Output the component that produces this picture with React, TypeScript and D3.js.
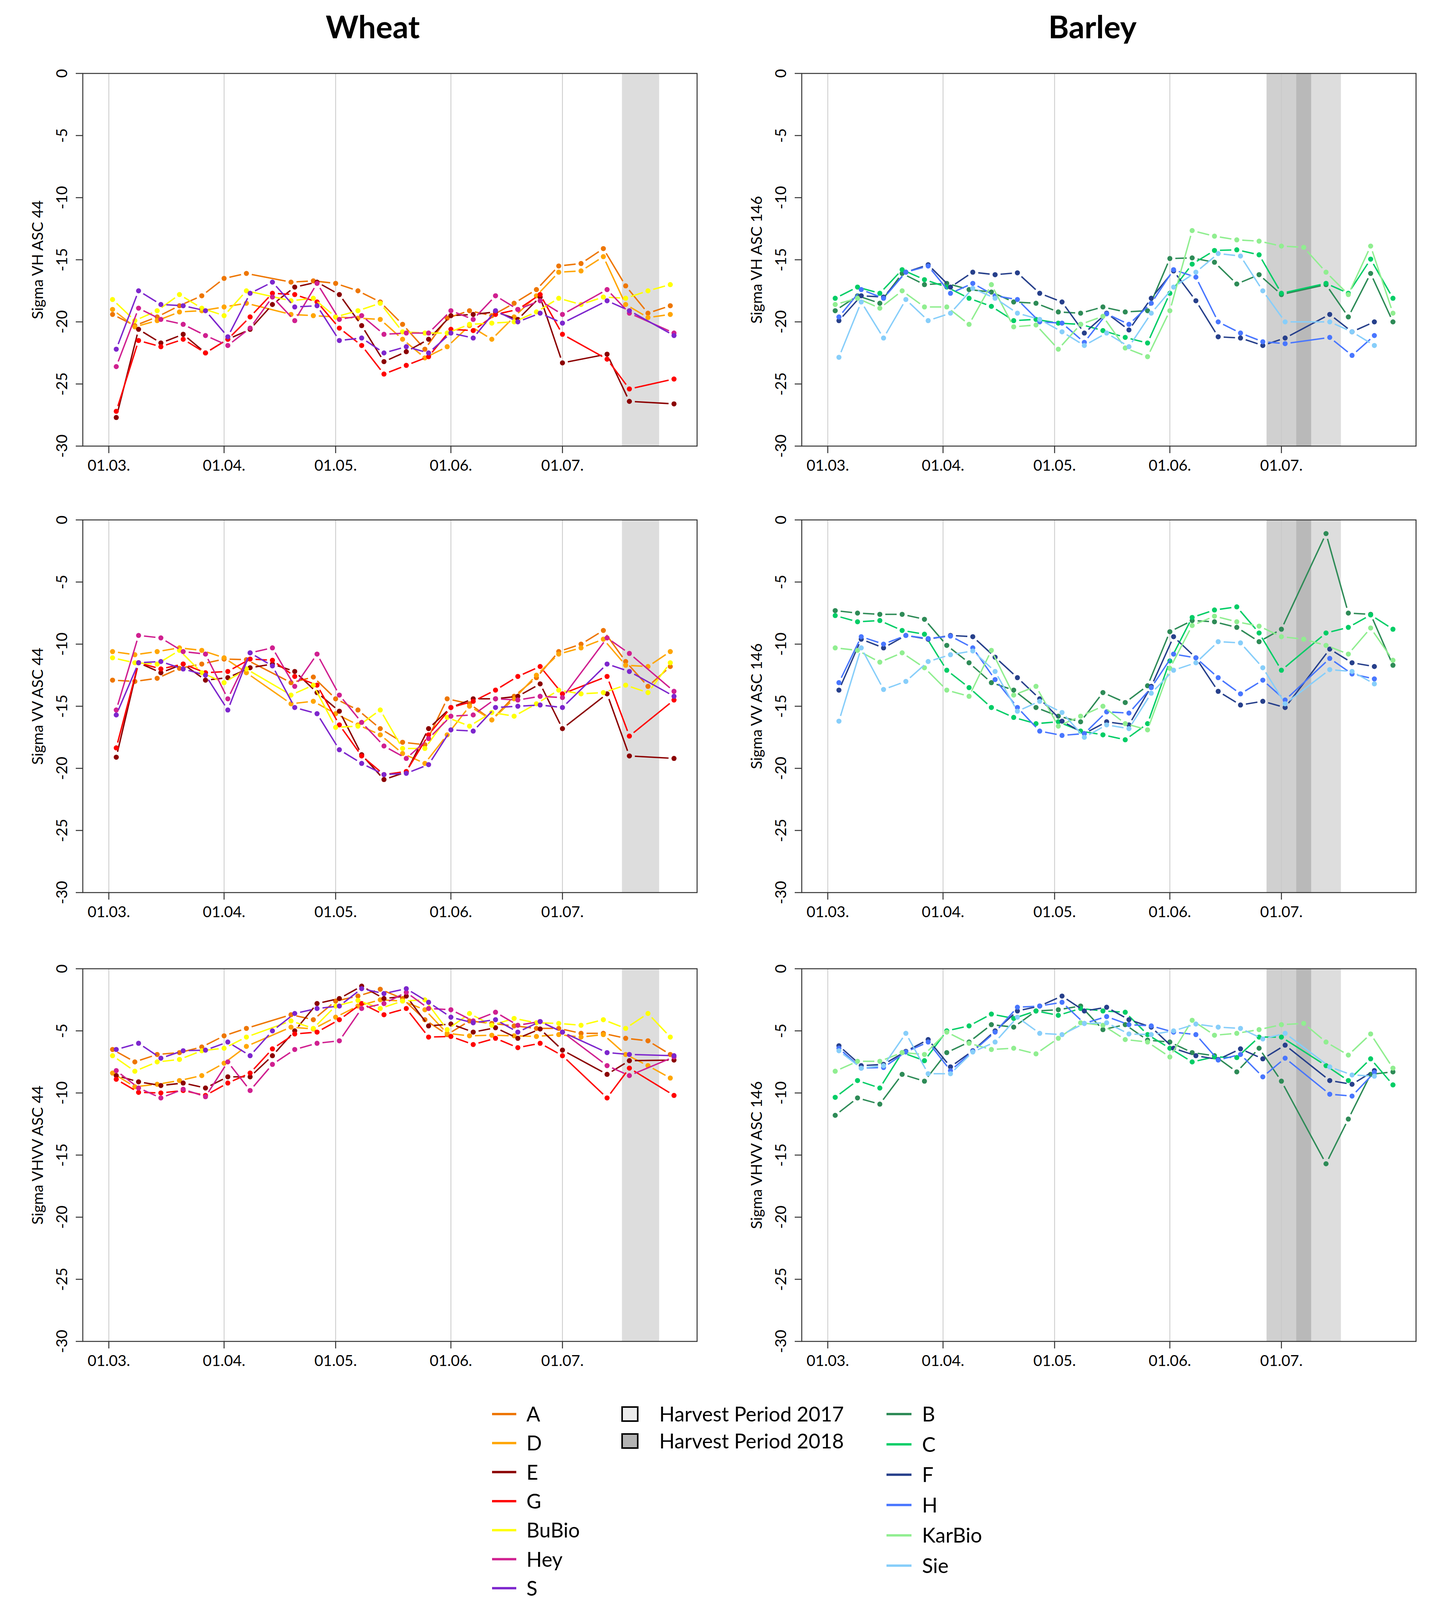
import React from 'react'
import * as d3 from 'd3'

// acquisition dates (two sets per crop, 6 day repeat)
const datesW1 = ['2018-03-02', '2018-03-08', '2018-03-14', '2018-03-20', '2018-03-26', '2018-04-01', '2018-04-07', '2018-04-13', '2018-04-19', '2018-04-25', '2018-05-01', '2018-05-07', '2018-05-13', '2018-05-19', '2018-05-25', '2018-05-31', '2018-06-06', '2018-06-12', '2018-06-18', '2018-06-24', '2018-06-30', '2018-07-06', '2018-07-12', '2018-07-18', '2018-07-24', '2018-07-30']
const datesW2 = ['2018-03-03', '2018-03-09', '2018-03-15', '2018-03-21', '2018-03-27', '2018-04-02', '2018-04-08', '2018-04-14', '2018-04-20', '2018-04-26', '2018-05-02', '2018-05-08', '2018-05-14', '2018-05-20', '2018-05-26', '2018-06-01', '2018-06-07', '2018-06-13', '2018-06-19', '2018-06-25', '2018-07-01', '2018-07-07', '2018-07-13', '2018-07-19', '2018-07-25', '2018-07-31']
const datesB1 = datesW2
const datesB2 = ['2018-03-04', '2018-03-10', '2018-03-16', '2018-03-22', '2018-03-28', '2018-04-03', '2018-04-09', '2018-04-15', '2018-04-21', '2018-04-27', '2018-05-03', '2018-05-09', '2018-05-15', '2018-05-21', '2018-05-27', '2018-06-02', '2018-06-08', '2018-06-14', '2018-06-20', '2018-06-26', '2018-07-02', '2018-07-08', '2018-07-14', '2018-07-20', '2018-07-26', '2018-08-01']

const monthTicks = ['2018-03-01', '2018-04-01', '2018-05-01', '2018-06-01', '2018-07-01']
const yTicks = [0, -5, -10, -15, -20, -25, -30]

const wheatNames = ['A', 'D', 'E', 'G', 'BuBio', 'Hey', 'S']
const wheatColors = ['#EE7600', '#FFA500', '#8B0000', '#FF0000', '#FFFF00', '#D02090', '#7D26CD']
const wheatDates = [datesW1, datesW1, datesW2, datesW2, datesW1, datesW2, datesW2]

const barleyNames = ['B', 'C', 'F', 'H', 'KarBio', 'Sie']
const barleyColors = ['#2E8B57', '#00CD66', '#27408B', '#4876FF', '#90EE90', '#87CEFA']
const barleyDates = [datesB1, datesB1, datesB2, datesB2, datesB1, datesB2]

const n = null

const wheatVH = {
  A: [-19.4, -20.3, -19.6, -18.7, -17.9, -16.5, -16.1, n, -16.8, -16.7, -16.9, -17.5, -18.4, -20.2, -22.2, -19.7, -19.1, -19.5, -18.5, -17.4, -15.5, -15.3, -14.1, -17.1, -19.3, -18.7],
  D: [-19.0, -20.4, -19.9, -19.2, -19.1, -18.8, -18.5, n, -19.4, -19.5, -19.6, -19.7, -19.8, -21.4, -22.9, -22.0, -20.3, -21.4, -19.6, -17.9, -16.0, -15.9, -14.75, -18.6, -19.65, -19.4],
  E: [-27.7, -20.6, -21.7, -21.0, -22.5, -21.4, -20.6, -18.6, -17.2, -16.8, -17.8, -20.3, -23.2, -22.4, -21.4, -19.5, -19.4, -19.2, -19.8, -18.0, -23.3, n, -22.6, -26.4, n, -26.6],
  G: [-27.2, -21.5, -22.0, -21.4, -22.5, -21.4, -19.6, -17.7, -17.8, -18.4, -20.5, -21.9, -24.2, -23.5, -22.8, -20.6, -20.7, -19.4, -19.0, -17.8, -21.0, n, -23.0, -25.4, n, -24.6],
  BuBio: [-18.2, -19.9, -19.1, -17.8, -18.9, -19.5, -17.5, n, -18.3, -18.1, -19.6, -19.1, -18.5, -20.8, -20.9, -20.9, -20.2, -20.1, -20.0, -19.2, -18.1, -18.6, -18.0, -18.1, -17.5, -17.0],
  Hey: [-23.6, -18.9, -19.8, -20.2, -21.1, -21.9, -20.5, -18.0, -19.9, -16.9, -19.8, -19.5, -21.0, -20.9, -20.9, -19.1, -19.8, -17.9, -19.0, -18.3, -19.4, n, -17.4, -19.3, n, -20.9],
  S: [-22.2, -17.5, -18.6, -18.7, -19.1, -21.2, -17.7, -16.8, -18.8, -18.7, -21.5, -21.3, -22.5, -22.0, -22.5, -20.9, -21.3, -19.1, -20.0, -19.3, -20.1, n, -18.3, -19.1, n, -21.1],
}

const wheatVV = {
  A: [-12.9, -13.0, -12.75, -11.95, -11.6, -11.2, -11.25, n, -13.1, -12.65, -14.4, -15.3, -16.8, -17.9, -18.1, -14.4, -14.8, -16.1, -14.2, -12.7, -10.6, -10.0, -8.9, -11.4, -13.4, -11.8],
  D: [-10.6, -10.85, -10.6, -10.3, -10.5, -11.1, -12.3, n, -14.8, -14.6, -15.6, -16.5, -17.3, -18.8, -19.6, -17.3, -15.0, -16.1, -14.4, -12.5, -10.8, -10.3, -9.6, -11.7, -11.8, -10.6],
  E: [-19.1, -11.5, -12.3, -11.6, -12.9, -12.7, -11.9, -11.6, -12.2, -13.9, -15.4, -18.9, -20.9, -20.3, -16.8, -15.1, -14.4, -14.4, -14.2, -13.2, -16.8, n, -14.0, -19.0, n, -19.2],
  G: [-18.35, -11.5, -12.0, -11.6, -12.3, -12.2, -11.2, -11.3, -12.6, -13.3, -16.5, -19.0, -20.5, -20.25, -17.3, -15.1, -14.6, -13.7, -12.6, -11.8, -14.0, n, -12.6, -17.4, n, -14.5],
  BuBio: [-11.1, -11.5, -11.6, -10.5, -12.3, -13.1, -12.0, n, -14.1, -13.3, -16.7, -16.6, -15.3, -18.4, -18.4, -15.9, -16.6, -15.5, -15.8, -14.8, -13.7, -14.0, -13.9, -13.3, -13.9, -11.5],
  Hey: [-15.3, -9.3, -9.5, -10.6, -10.8, -14.4, -10.7, -10.3, -13.4, -10.8, -14.1, -16.3, -18.2, -19.2, -17.6, -15.8, -15.7, -14.4, -14.5, -14.2, -14.3, n, -9.5, -10.75, n, -13.8],
  S: [-15.7, -11.5, -11.4, -12.0, -12.5, -15.3, -10.7, -11.75, -15.1, -15.6, -18.5, -19.6, -20.5, -20.4, -19.7, -16.9, -17.0, -15.1, -15.0, -14.9, -15.1, n, -11.6, -12.2, n, -14.2],
}

const wheatVHVV = {
  A: [-6.5, -7.5, -6.9, -6.75, -6.3, -5.4, -4.8, n, -3.7, -4.1, -2.6, -2.2, -1.65, -2.4, -4.1, -5.3, -4.2, -4.4, -4.6, -4.8, -4.8, -5.2, -5.2, -5.6, -5.8, -6.9],
  D: [-8.4, -9.5, -9.3, -9.0, -8.6, -7.6, -6.25, n, -4.7, -4.85, -3.9, -3.0, -2.5, -2.6, -3.3, -5.2, -5.4, -5.35, -5.4, -5.45, -5.3, -5.5, -5.3, -6.9, -7.8, -8.8],
  E: [-8.6, -9.1, -9.4, -9.2, -9.6, -8.7, -8.7, -7.0, -5.0, -2.8, -2.4, -1.4, -2.4, -2.2, -4.6, -4.45, -5.1, -4.75, -5.6, -4.85, -6.55, n, -8.5, -7.4, n, -7.35],
  G: [-8.9, -9.95, -10.0, -9.8, -10.2, -9.2, -8.4, -6.45, -5.25, -5.1, -4.1, -2.8, -3.7, -3.2, -5.5, -5.45, -6.1, -5.6, -6.35, -6.0, -7.0, n, -10.4, -8.0, n, -10.2],
  BuBio: [-7.0, -8.25, -7.5, -7.3, -6.6, -6.4, -5.5, n, -4.2, -4.8, -3.0, -2.55, -3.2, -2.6, -2.5, -4.9, -3.6, -4.55, -4.0, -4.35, -4.4, -4.55, -4.1, -4.8, -3.6, -5.5],
  Hey: [-8.2, -9.6, -10.4, -9.7, -10.3, -7.5, -9.8, -7.7, -6.5, -6.0, -5.8, -3.2, -2.8, -1.9, -3.2, -3.3, -4.2, -3.5, -4.55, -4.25, -5.1, n, -7.8, -8.6, n, -7.1],
  S: [-6.5, -6.0, -7.2, -6.6, -6.55, -5.9, -7.0, -5.0, -3.6, -3.2, -3.0, -1.6, -2.0, -1.6, -2.7, -3.9, -4.35, -4.1, -5.1, -4.25, -5.1, n, -6.75, -6.9, n, -7.0],
}

const barleyVH = {
  B: [-19.1, -17.9, -18.5, -16.1, -17.0, -16.9, -17.4, -17.6, -18.4, -18.5, -19.2, -19.3, -18.8, -19.2, -19.1, -14.9, -14.85, -15.2, -16.95, -16.2, -17.8, n, -17.0, -19.6, -16.1, -20.0],
  C: [-18.1, -17.2, -17.7, -15.8, -16.6, -17.2, -18.1, -18.75, -19.9, -19.8, -20.1, -20.2, -20.7, -21.25, -21.7, -17.7, -15.35, -14.25, -14.2, -14.6, -17.7, n, -16.9, -17.7, -14.95, -18.1],
  F: [-19.9, -17.9, -18.0, -16.0, -15.4, -17.2, -16.0, -16.2, -16.05, -17.7, -18.4, -20.9, -19.3, -20.65, -18.1, -15.9, -18.3, -21.2, -21.3, -21.9, -21.3, n, -19.4, -20.8, -20.0, n],
  H: [-19.6, -17.4, -18.1, -16.0, -15.5, -17.7, -16.9, -17.9, -18.2, -20.0, -20.1, -21.65, -19.35, -20.2, -18.5, -15.8, -16.4, -20.0, -20.9, -21.6, -21.75, n, -21.25, -22.7, -21.1, n],
  KarBio: [-18.6, -18.1, -18.9, -17.5, -18.8, -18.8, -20.2, -17.0, -20.4, -20.25, -22.2, -20.2, -19.55, -22.1, -22.8, -19.1, -12.65, -13.1, -13.4, -13.5, -13.9, -14.0, -16.0, -17.8, -13.9, -19.3],
  Sie: [-22.85, -18.4, -21.3, -18.2, -19.9, -19.3, -17.3, -18.1, -19.3, -19.8, -20.8, -21.9, -20.9, -22.0, -19.3, -17.2, -16.0, -14.5, -14.7, -17.5, -20.0, n, -20.0, -20.8, -21.9, n],
}

const barleyVV = {
  B: [-7.3, -7.5, -7.6, -7.6, -8.0, -10.1, -11.5, -13.1, -13.7, -15.1, -15.8, -16.25, -13.9, -14.7, -13.35, -9.0, -8.1, -8.2, -8.65, -9.8, -8.8, n, -1.1, -7.5, -7.6, -11.7],
  C: [-7.7, -8.2, -8.1, -8.9, -9.2, -12.1, -13.5, -15.1, -15.9, -16.4, -16.25, -17.0, -17.3, -17.7, -16.4, -11.35, -7.85, -7.25, -7.0, -9.1, -12.1, n, -9.1, -8.65, -7.65, -8.8],
  F: [-13.7, -9.6, -10.3, -9.3, -9.6, -9.3, -9.4, -11.05, -12.7, -14.4, -16.2, -17.2, -16.25, -16.5, -13.4, -9.4, -11.1, -13.8, -14.9, -14.6, -15.1, n, -10.4, -11.5, -11.8, n],
  H: [-13.1, -9.4, -10.0, -9.3, -9.55, -9.35, -10.3, -12.85, -15.1, -17.0, -17.35, -17.2, -15.45, -15.55, -13.5, -10.8, -11.1, -12.7, -14.0, -12.9, -14.5, n, -11.15, -12.4, -12.8, n],
  KarBio: [-10.3, -10.5, -11.45, -10.7, -11.9, -13.7, -14.2, -10.5, -14.1, -13.4, -16.6, -15.8, -15.0, -16.4, -16.9, -11.95, -8.5, -7.75, -8.2, -8.55, -9.4, -9.6, -10.1, -10.8, -8.7, -11.3],
  Sie: [-16.2, -10.3, -13.65, -13.0, -11.4, -10.85, -10.55, -12.2, -15.4, -14.6, -15.5, -17.5, -16.5, -16.8, -13.95, -12.1, -11.5, -9.8, -9.9, -11.9, -14.8, n, -12.05, -12.2, -13.2, n],
}

const barleyVHVV = {
  B: [-11.8, -10.4, -10.9, -8.5, -9.05, -6.75, -5.9, -4.5, -4.7, -3.4, -3.3, -3.0, -4.9, -4.5, -5.75, -5.9, -6.75, -7.0, -8.3, -6.4, -9.05, n, -15.7, -12.1, -8.5, -8.3],
  C: [-10.35, -9.0, -9.6, -6.75, -7.4, -5.0, -4.6, -3.65, -4.0, -3.4, -3.75, -3.2, -3.4, -3.5, -5.3, -6.4, -7.5, -7.1, -7.15, -5.5, -5.5, n, -7.8, -9.0, -7.25, -9.35],
  F: [-6.2, -7.8, -7.7, -6.65, -5.7, -7.9, -6.6, -5.0, -3.4, -3.0, -2.2, -3.4, -3.1, -4.1, -4.7, -6.4, -7.0, -7.3, -6.45, -7.25, -6.15, n, -9.0, -9.3, -8.2, n],
  H: [-6.4, -8.0, -7.95, -6.7, -5.9, -8.2, -6.65, -5.1, -3.1, -3.0, -2.7, -4.4, -3.85, -4.5, -4.6, -5.1, -5.3, -7.35, -6.9, -8.7, -7.2, n, -10.1, -10.25, -8.35, n],
  KarBio: [-8.25, -7.45, -7.45, -6.75, -6.9, -5.1, -6.0, -6.5, -6.4, -6.85, -5.6, -4.35, -4.55, -5.7, -5.9, -7.1, -4.15, -5.35, -5.2, -4.9, -4.5, -4.4, -5.9, -6.95, -5.25, -8.0],
  Sie: [-6.6, -8.0, -7.8, -5.2, -8.45, -8.45, -6.7, -5.9, -3.9, -5.2, -5.3, -4.4, -4.35, -5.25, -5.3, -5.0, -4.45, -4.7, -4.8, -5.65, -5.2, n, -7.9, -8.55, -8.65, n],
}

// harvest periods
const wheatHarvest = [{ from: '2018-07-17', to: '2018-07-27', year: 2017 }]
const barleyHarvest = [
  { from: '2018-07-05', to: '2018-07-17', year: 2017 },
  { from: '2018-06-27', to: '2018-07-09', year: 2018 },
]

const FONT = 'Lato, "Open Sans", sans-serif'
const W = 3672
const H = 4128
const PW = 1573
const PH = 954
const colX = [212, 2053]
const rowY = [188, 1331, 2480]
const GAP = 14 // type "b": line stops short of the points

const xDomain = [new Date('2018-02-22T00:00:00Z'), new Date('2018-08-06T05:00:00Z')]
const fmt = d3.utcFormat('%d.%m.')

function Panel({ x0, y0, ylab, names, colors, dates, values, bands }) {
  const x = d3.scaleUtc().domain(xDomain).range([x0, x0 + PW])
  const y = d3.scaleLinear().domain([-30, 0]).range([y0 + PH, y0])

  const segs = []
  const dots = []
  names.forEach((name, i) => {
    const pts = values[name]
      .map((v, j) => (v === null ? null : [x(new Date(dates[i][j])), y(v)]))
      .filter(p => p !== null)
    pts.forEach((p, j) => {
      dots.push(<circle key={`${name}-p${j}`} cx={p[0]} cy={p[1]} r={6.5} fill={colors[i]} />)
      if (j === 0) return
      const q = pts[j - 1]
      const dx = p[0] - q[0]
      const dy = p[1] - q[1]
      const len = Math.hypot(dx, dy)
      if (len <= 2 * GAP) return
      const ux = dx / len
      const uy = dy / len
      segs.push(
        <line
          key={`${name}-s${j}`}
          x1={q[0] + ux * GAP}
          y1={q[1] + uy * GAP}
          x2={p[0] - ux * GAP}
          y2={p[1] - uy * GAP}
          stroke={colors[i]}
          strokeWidth={3.6}
        />
      )
    })
    // keep series order: push a marker to separate
    segs.push(<g key={`${name}-dots`}>{dots.splice(0, dots.length)}</g>)
  })

  return (
    <g>
      {bands
        .slice()
        .sort((a, b) => a.year - b.year)
        .map((b, i) => (
          <rect
            key={i}
            x={x(new Date(b.from))}
            y={y0}
            width={x(new Date(b.to)) - x(new Date(b.from))}
            height={PH}
            fill={b.year === 2017 ? '#DDDDDD' : '#6C6C6C'}
            fillOpacity={b.year === 2017 ? 1 : 0.32}
          />
        ))}
      {monthTicks.map(t => (
        <line key={t} x1={x(new Date(t))} x2={x(new Date(t))} y1={y0} y2={y0 + PH} stroke="#C8C8C8" strokeWidth={2} />
      ))}
      {segs}
      <rect x={x0} y={y0} width={PW} height={PH} fill="none" stroke="#333" strokeWidth={2.5} />
      {monthTicks.map(t => (
        <g key={t}>
          <line x1={x(new Date(t))} x2={x(new Date(t))} y1={y0 + PH} y2={y0 + PH + 18} stroke="#333" strokeWidth={2.5} />
          <text x={x(new Date(t))} y={y0 + PH + 63} textAnchor="middle" fontSize={39} fontFamily={FONT}>
            {fmt(new Date(t))}
          </text>
        </g>
      ))}
      {yTicks.map(v => (
        <g key={v}>
          <line x1={x0 - 18} x2={x0} y1={y(v)} y2={y(v)} stroke="#333" strokeWidth={2.5} />
          <text
            transform={`translate(${x0 - 40},${y(v)}) rotate(-90)`}
            textAnchor="middle"
            fontSize={39}
            fontFamily={FONT}
          >
            {v}
          </text>
        </g>
      ))}
      <text
        transform={`translate(${x0 - 102},${y0 + PH / 2}) rotate(-90)`}
        textAnchor="middle"
        fontSize={39}
        fontFamily={FONT}
      >
        {ylab}
      </text>
    </g>
  )
}

function Legend() {
  const rowsL = wheatNames.map((nm, i) => ({ nm, c: wheatColors[i], y: 3620 + i * 74.3 }))
  const rowsR = barleyNames.map((nm, i) => ({ nm, c: barleyColors[i], y: 3620 + i * 77.6 }))
  const harvest = [
    { label: 'Harvest Period 2017', fill: '#EBEBEB', y: 3620 },
    { label: 'Harvest Period 2018', fill: '#B3B3B3', y: 3689 },
  ]
  return (
    <g fontFamily={FONT} fontSize={52}>
      {rowsL.map(r => (
        <g key={r.nm}>
          <line x1={1260} x2={1322} y1={r.y} y2={r.y} stroke={r.c} strokeWidth={6} />
          <text x={1348} y={r.y + 19}>{r.nm}</text>
        </g>
      ))}
      {harvest.map(h => (
        <g key={h.label}>
          <rect x={1593} y={h.y - 18} width={40} height={36} fill={h.fill} stroke="#000" strokeWidth={4} />
          <text x={1688} y={h.y + 19}>{h.label}</text>
        </g>
      ))}
      {rowsR.map(r => (
        <g key={r.nm}>
          <line x1={2270} x2={2334} y1={r.y} y2={r.y} stroke={r.c} strokeWidth={6} />
          <text x={2361} y={r.y + 19}>{r.nm}</text>
        </g>
      ))}
    </g>
  )
}

const wheatPanels = [
  { ylab: 'Sigma VH ASC 44', values: wheatVH },
  { ylab: 'Sigma VV ASC 44', values: wheatVV },
  { ylab: 'Sigma VHVV ASC 44', values: wheatVHVV },
]
const barleyPanels = [
  { ylab: 'Sigma VH ASC 146', values: barleyVH },
  { ylab: 'Sigma VV ASC 146', values: barleyVV },
  { ylab: 'Sigma VHVV ASC 146', values: barleyVHVV },
]

export default function App() {
  return (
    <svg
      width={W}
      height={H}
      style={{ position: 'absolute', left: 0, top: 0, background: '#fff' }}
    >
      <rect width={W} height={H} fill="#fff" />
      <text x={colX[0] + PW / 2 - 44} y={98} textAnchor="middle" fontSize={80} fontWeight="bold" fontFamily={FONT}>
        Wheat
      </text>
      <text x={colX[1] + PW / 2 - 42} y={98} textAnchor="middle" fontSize={80} fontWeight="bold" fontFamily={FONT}>
        Barley
      </text>
      {wheatPanels.map((p, i) => (
        <Panel
          key={`w${i}`}
          x0={colX[0]}
          y0={rowY[i]}
          ylab={p.ylab}
          names={wheatNames}
          colors={wheatColors}
          dates={wheatDates}
          values={p.values}
          bands={wheatHarvest}
        />
      ))}
      {barleyPanels.map((p, i) => (
        <Panel
          key={`b${i}`}
          x0={colX[1]}
          y0={rowY[i]}
          ylab={p.ylab}
          names={barleyNames}
          colors={barleyColors}
          dates={barleyDates}
          values={p.values}
          bands={barleyHarvest}
        />
      ))}
      <Legend />
    </svg>
  )
}
